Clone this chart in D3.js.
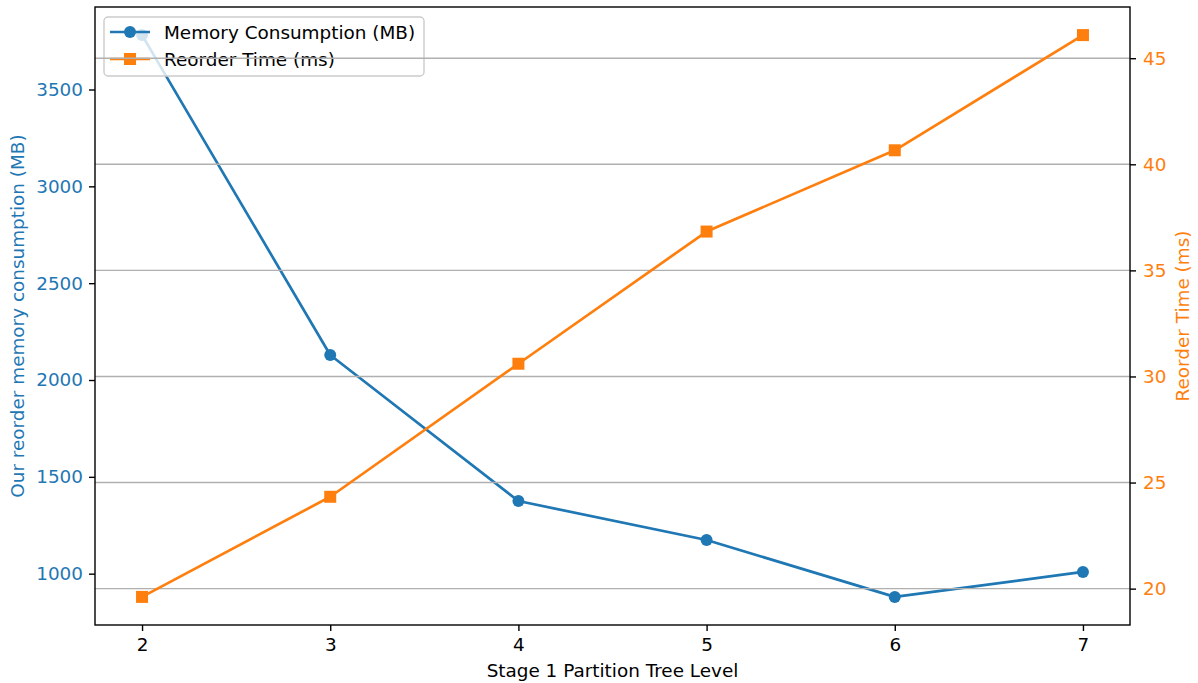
<!DOCTYPE html>
<html>
<head>
<meta charset="utf-8">
<script src="https://cdn.jsdelivr.net/npm/d3@7"></script>
<style>
  html, body { margin: 0; padding: 0; background: #fff; }
  svg { display: block; font-family: "DejaVu Sans", sans-serif; }
</style>
</head>
<body>
<svg id="chart" width="1198" height="683"></svg>
<script>
// Partition tree levels and the two measured series
const levels = [2, 3, 4, 5, 6, 7];
const memoryMB = [3781, 2129, 1375, 1174, 880, 1009];
const reorderMs = [19.61, 24.33, 30.60, 36.83, 40.66, 46.09];

const xTicks = [2, 3, 4, 5, 6, 7];
const memTicks = [1000, 1500, 2000, 2500, 3000, 3500];
const timeTicks = [20, 25, 30, 35, 40, 45];

const seriesNames = ["Memory Consumption (MB)", "Reorder Time (ms)"];
const blue = "#1f77b4", orange = "#ff7f0e";

const svg = d3.select("#chart");
const plotL = 95, plotR = 1130, plotT = 7, plotB = 625;
const fs = 18.4;
const lw = 2.7, mr = 6, ms = 12;

// Matplotlib-style 5% padding around the data range
function padded(vals) {
  const [lo, hi] = d3.extent(vals);
  const p = (hi - lo) * 0.05;
  return [lo - p, hi + p];
}

const x = d3.scaleLinear().domain(padded(levels)).range([plotL, plotR]);
const yMem = d3.scaleLinear().domain(padded(memoryMB)).range([plotB, plotT]);
const yTime = d3.scaleLinear().domain(padded(reorderMs)).range([plotB, plotT]);

// Primary axes: x and left memory axis
const xAxis = svg.append("g")
  .attr("transform", `translate(0,${plotB})`)
  .call(d3.axisBottom(x).tickValues(xTicks).tickFormat(d3.format("d")).tickSizeOuter(0).tickSize(6).tickPadding(7));
const yAxisL = svg.append("g")
  .attr("transform", `translate(${plotL},0)`)
  .call(d3.axisLeft(yMem).tickValues(memTicks).tickFormat(d3.format("d")).tickSizeOuter(0).tickSize(6).tickPadding(6));

[xAxis, yAxisL].forEach(g => {
  g.select(".domain").remove();
  g.selectAll(".tick line").attr("stroke", "#000").attr("stroke-width", 1.4);
  g.selectAll(".tick text").attr("font-size", fs).attr("font-family", "DejaVu Sans");
});
xAxis.selectAll(".tick text").attr("fill", "#000");
yAxisL.selectAll(".tick text").attr("fill", blue);

// Memory line
const lineMem = d3.line().x((d, i) => x(levels[i])).y(d => yMem(d));
svg.append("path").datum(memoryMB)
  .attr("d", lineMem).attr("fill", "none").attr("stroke", blue)
  .attr("stroke-width", lw).attr("stroke-linejoin", "round");
svg.append("g").selectAll("circle").data(memoryMB).join("circle")
  .attr("cx", (d, i) => x(levels[i])).attr("cy", d => yMem(d))
  .attr("r", mr).attr("fill", blue);

// Legend (semi-transparent frame)
const lg = svg.append("g").attr("transform", "translate(104,17)");
lg.append("rect").attr("width", 320).attr("height", 59).attr("rx", 4)
  .attr("fill", "rgba(255,255,255,0.8)").attr("stroke", "#cccccc").attr("stroke-width", 1.4);
const entries = [
  { name: seriesNames[0], color: blue, shape: "circle" },
  { name: seriesNames[1], color: orange, shape: "square" }
];
entries.forEach((e, i) => {
  const cy = 15 + i * 27;
  lg.append("line").attr("x1", 6).attr("x2", 46).attr("y1", cy).attr("y2", cy)
    .attr("stroke", e.color).attr("stroke-width", lw);
  if (e.shape === "circle") {
    lg.append("circle").attr("cx", 26).attr("cy", cy).attr("r", mr).attr("fill", e.color);
  } else {
    lg.append("rect").attr("x", 26 - ms / 2).attr("y", cy - ms / 2).attr("width", ms).attr("height", ms).attr("fill", e.color);
  }
  lg.append("text").attr("x", 60).attr("y", cy).attr("dy", "0.36em")
    .attr("font-size", fs).attr("fill", "#000").text(e.name);
});

// Secondary axis: grid, time line, right axis
svg.append("g").selectAll("line").data(timeTicks).join("line")
  .attr("x1", plotL).attr("x2", plotR)
  .attr("y1", d => yTime(d)).attr("y2", d => yTime(d))
  .attr("stroke", "#b0b0b0").attr("stroke-width", 1.4);

const lineTime = d3.line().x((d, i) => x(levels[i])).y(d => yTime(d));
svg.append("path").datum(reorderMs)
  .attr("d", lineTime).attr("fill", "none").attr("stroke", orange)
  .attr("stroke-width", lw).attr("stroke-linejoin", "round");
svg.append("g").selectAll("rect").data(reorderMs).join("rect")
  .attr("x", (d, i) => x(levels[i]) - ms / 2).attr("y", d => yTime(d) - ms / 2)
  .attr("width", ms).attr("height", ms).attr("fill", orange);

const yAxisR = svg.append("g")
  .attr("transform", `translate(${plotR},0)`)
  .call(d3.axisRight(yTime).tickValues(timeTicks).tickFormat(d3.format("d")).tickSizeOuter(0).tickSize(6).tickPadding(7));
yAxisR.select(".domain").remove();
yAxisR.selectAll(".tick line").attr("stroke", "#000").attr("stroke-width", 1.4);
yAxisR.selectAll(".tick text").attr("font-size", fs).attr("font-family", "DejaVu Sans").attr("fill", orange);

// Frame
svg.append("rect").attr("x", plotL).attr("y", plotT).attr("width", plotR - plotL).attr("height", plotB - plotT)
  .attr("fill", "none").attr("stroke", "#000").attr("stroke-width", 1.4);

// Axis titles
svg.append("text").attr("x", (plotL + plotR) / 2).attr("y", 677)
  .attr("text-anchor", "middle").attr("font-size", fs).attr("fill", "#000")
  .text("Stage 1 Partition Tree Level");
svg.append("text").attr("transform", `translate(24,${(plotT + plotB) / 2}) rotate(-90)`)
  .attr("text-anchor", "middle").attr("font-size", fs).attr("fill", blue)
  .text("Our reorder memory consumption (MB)");
svg.append("text").attr("transform", `translate(1189,${(plotT + plotB) / 2}) rotate(-90)`)
  .attr("text-anchor", "middle").attr("font-size", fs).attr("fill", orange)
  .text("Reorder Time (ms)");
</script>
</body>
</html>
